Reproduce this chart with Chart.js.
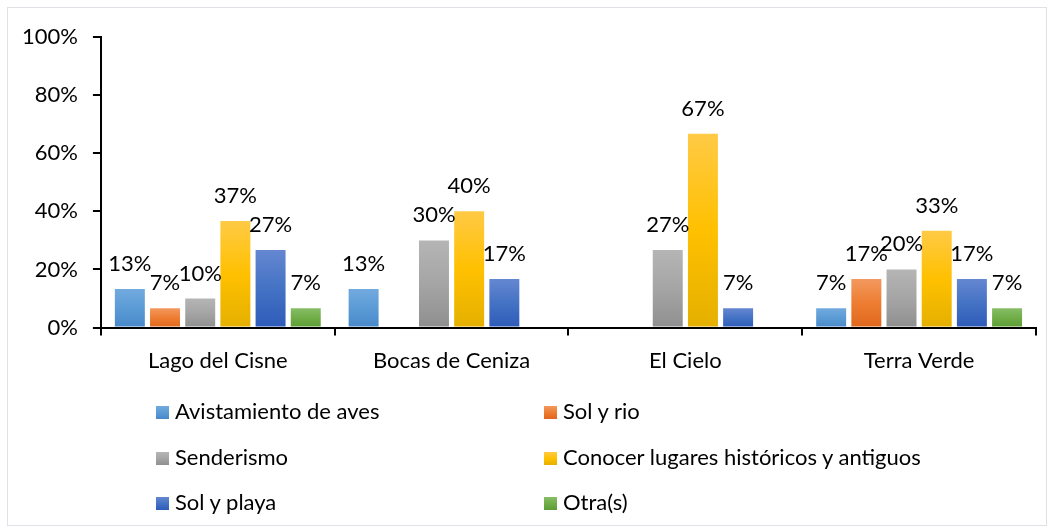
<!DOCTYPE html>
<html>
<head>
<meta charset="utf-8">
<script src="https://cdn.jsdelivr.net/npm/chart.js@4.4.1/dist/chart.umd.min.js"></script>
<style>
  html, body { margin:0; padding:0; background:#fff; }
  #wrap { position:relative; width:1054px; height:531px; overflow:hidden; }
  #frame { position:absolute; left:7px; top:7px; width:1040px; height:519px; border:1px solid #dfe3e8; box-sizing:border-box; }
  #chart { position:absolute; left:0; top:0; }
  .leg { position:absolute; display:flex; align-items:center; font-family:Lato, 'Liberation Sans', sans-serif; font-size:22px; color:#000; white-space:nowrap; }
  .leg i { display:inline-block; width:13px; height:13px; margin-right:6px; margin-top:3px; }
</style>
</head>
<body>
<div id="wrap">
  <div id="frame"></div>
  <canvas id="chart" width="1054" height="531"></canvas>
  <div id="legend"></div>
</div>
<script>
// ── datos ─────────────────────────────────────────────
const LUGARES = ['Lago del Cisne', 'Bocas de Ceniza', 'El Cielo', 'Terra Verde'];
const SERIES  = ['Avistamiento de aves', 'Sol y rio', 'Senderismo',
                 'Conocer lugares históricos y antiguos', 'Sol y playa', 'Otra(s)'];
const AVES       = [13.3, 13.3, null, 6.7];
const SOL_RIO    = [6.7, null, null, 16.7];
const SENDERISMO = [10, 30, 26.7, 20];
const HISTORICOS = [36.7, 40, 66.7, 33.3];
const SOL_PLAYA  = [26.7, 16.7, 6.7, 16.7];
const OTRAS      = [6.7, null, null, 6.7];
const Y_TICKS    = [0, 20, 40, 60, 80, 100];

// colores tipo Excel (claro arriba, oscuro abajo)
const GRAD = [
  ['#72aadf', '#5b9bd5', '#4888ca'],
  ['#f3995f', '#ed7d31', '#df671d'],
  ['#b5b5b5', '#a5a5a5', '#8f8f8f'],
  ['#ffca45', '#ffc000', '#e4b000'],
  ['#6587d1', '#4472c4', '#2d5bb9'],
  ['#87be67', '#70ad47', '#5c9d35'],
];
const FONT = "Lato, 'Liberation Sans', sans-serif";
const FSIZE = 22;

function barGradient(g) {
  return ctx => {
    const chart = ctx.chart;
    const y = chart.scales && chart.scales.y;
    if (!y || ctx.raw == null || !chart.chartArea) return g[1];
    const top = y.getPixelForValue(ctx.raw), base = y.getPixelForValue(0);
    if (!isFinite(top) || !isFinite(base) || top === base) return g[1];
    const lg = chart.ctx.createLinearGradient(0, top, 0, base);
    lg.addColorStop(0, g[0]); lg.addColorStop(0.5, g[1]); lg.addColorStop(1, g[2]);
    return lg;
  };
}

// etiquetas de datos encima de cada barra
const etiquetas = {
  id: 'etiquetas',
  afterDatasetsDraw(chart) {
    const c = chart.ctx;
    c.save();
    c.font = FSIZE + 'px ' + FONT;
    c.fillStyle = '#000';
    c.textAlign = 'center';
    c.textBaseline = 'alphabetic';
    chart.data.datasets.forEach((ds, i) => {
      chart.getDatasetMeta(i).data.forEach((bar, j) => {
        const v = ds.data[j];
        if (v == null) return;
        c.fillText(Math.round(v) + '%', bar.x, bar.y - 18);
      });
    });
    c.restore();
  }
};

const valores = [AVES, SOL_RIO, SENDERISMO, HISTORICOS, SOL_PLAYA, OTRAS];

const chart = new Chart(document.getElementById('chart'), {
  type: 'bar',
  data: {
    labels: LUGARES,
    datasets: SERIES.map((s, i) => ({
      label: s, data: valores[i],
      backgroundColor: barGradient(GRAD[i]),
      borderWidth: 0,
      categoryPercentage: 0.903, barPercentage: 0.852,
    }))
  },
  options: {
    responsive: false, animation: false,
    layout: { padding: { left: 7, right: 18, top: 37, bottom: 145 } },
    plugins: { legend: { display: false }, tooltip: { enabled: false } },
    scales: {
      x: {
        grid: { display: true, offset: true, drawOnChartArea: false, drawTicks: true, tickLength: 8, color: '#000', lineWidth: 2 },
        border: { display: true, color: '#000', width: 2 },
        ticks: { font: { family: FONT, size: FSIZE }, color: '#000', padding: 12 }
      },
      y: {
        min: 0, max: 100,
        afterBuildTicks: ax => { ax.ticks = Y_TICKS.map(v => ({ value: v })); },
        grid: { display: true, drawOnChartArea: false, drawTicks: true, tickLength: 8, color: '#000', lineWidth: 2 },
        border: { display: true, color: '#000', width: 2 },
        ticks: { font: { family: FONT, size: FSIZE }, color: '#000', padding: 15, callback: v => v + '%' }
      }
    }
  },
  plugins: [etiquetas]
});

// leyenda en dos columnas
const POS = [[156, 411], [544, 411], [156, 457], [544, 457], [156, 502], [544, 502]];
const leg = document.getElementById('legend');
SERIES.forEach((s, i) => {
  const d = document.createElement('div');
  d.className = 'leg';
  d.style.left = POS[i][0] + 'px';
  d.style.top = (POS[i][1] - 14) + 'px';
  const g = GRAD[i];
  d.innerHTML = `<i style="background:linear-gradient(${g[0]},${g[1]},${g[2]})"></i>${s}`;
  leg.appendChild(d);
});
</script>
</body>
</html>
